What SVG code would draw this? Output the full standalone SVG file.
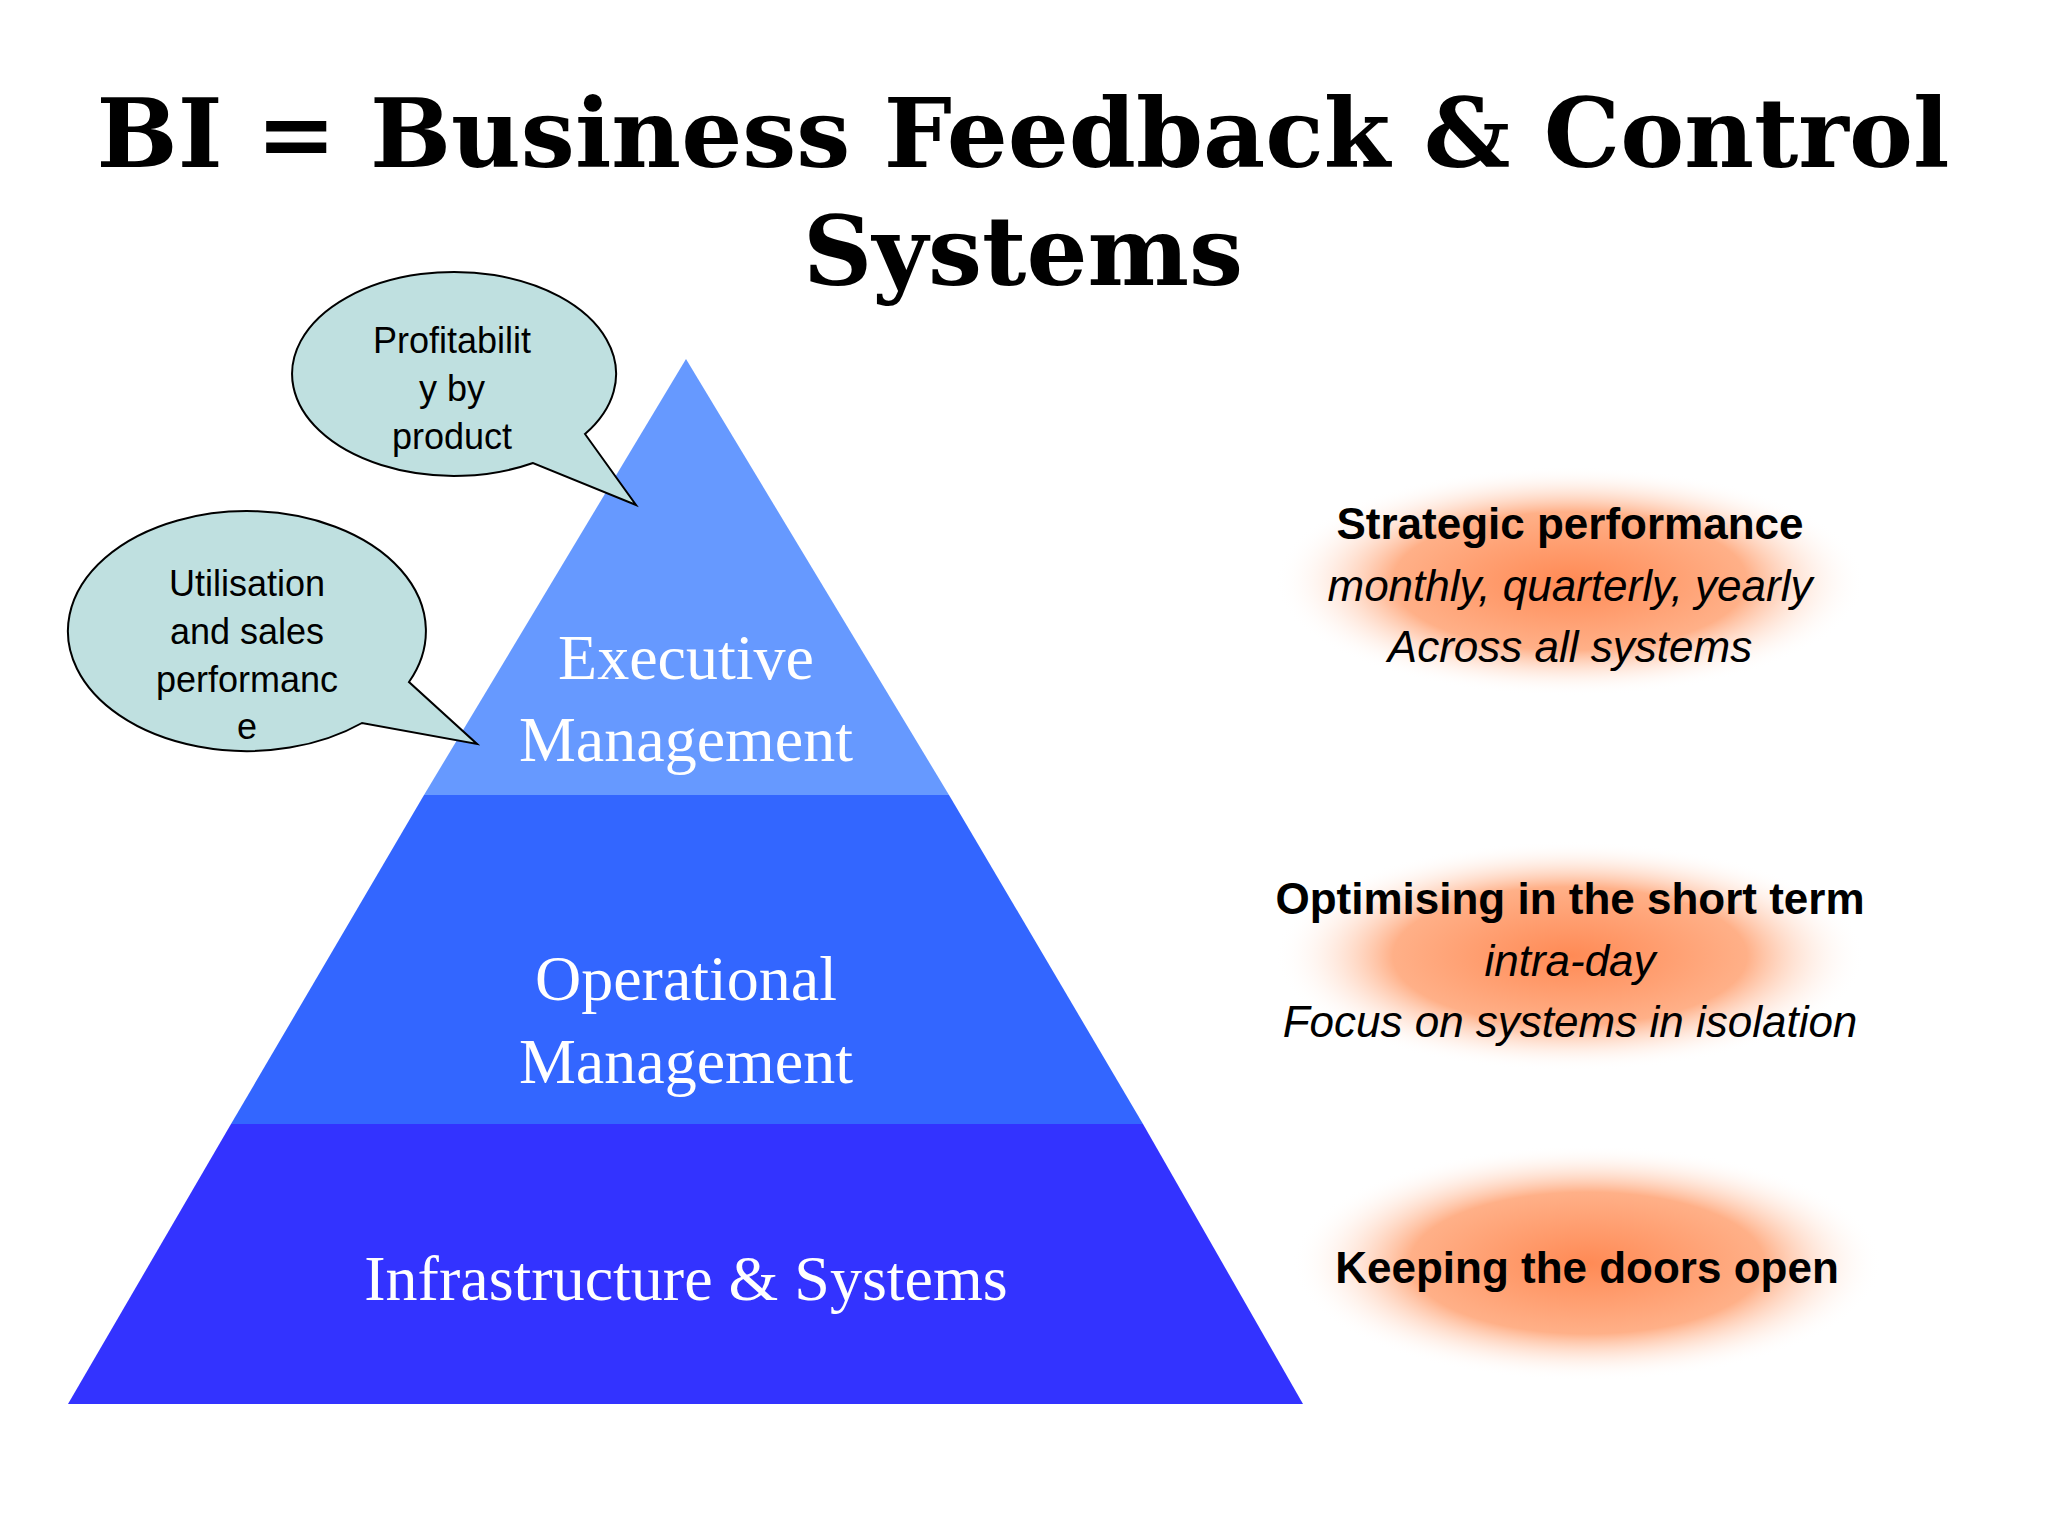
<svg xmlns="http://www.w3.org/2000/svg" width="2048" height="1536" viewBox="0 0 2048 1536">
<defs>
<radialGradient id="glow"><stop offset="0" stop-color="#FF8A55"/><stop offset="0.6" stop-color="#FFB088"/><stop offset="1" stop-color="#FFFFFF" stop-opacity="0"/></radialGradient>
<style>
.title{font-family:"DejaVu Serif",serif;font-weight:bold;font-size:96px;fill:#000;text-anchor:middle}
.pyr{font-family:"Liberation Serif",serif;font-size:64px;fill:#fff;text-anchor:middle}
.side{font-family:"Liberation Sans",Arial,sans-serif;font-size:44px;fill:#000;text-anchor:middle}
.b{font-weight:bold}.i{font-style:italic}
.bub{fill:#BFE0E0;stroke:#000;stroke-width:2}
.bt{font-family:"Liberation Sans",Arial,sans-serif;font-size:36px;fill:#000;text-anchor:middle}
</style>
</defs>
<rect width="2048" height="1536" fill="#fff"/>
<text class="title" x="1023" y="167">BI = Business Feedback &amp; Control</text>
<text class="title" x="1023" y="285">Systems</text>
<g id="tier-exec"><polygon points="686,359 949,795 424,795" fill="#6699FF"/>
<text class="pyr" x="686" y="679">Executive</text><text class="pyr" x="686" y="761">Management</text></g>
<g id="tier-ops"><polygon points="424,795 949,795 1143,1124 231,1124" fill="#3366FF"/>
<text class="pyr" x="686" y="1000">Operational</text><text class="pyr" x="686" y="1083">Management</text></g>
<g id="tier-infra"><polygon points="231,1124 1143,1124 1303,1404 68,1404" fill="#3333FF"/>
<text class="pyr" x="686" y="1300">Infrastructure &amp; Systems</text></g>
<g id="strategic"><ellipse cx="1570" cy="581" rx="295" ry="115" fill="url(#glow)"/>
<text class="side b" x="1570" y="539">Strategic performance</text>
<text class="side i" x="1570" y="601">monthly, quarterly, yearly</text>
<text class="side i" x="1570" y="662">Across all systems</text></g>
<g id="optimising"><ellipse cx="1570" cy="956" rx="295" ry="115" fill="url(#glow)"/>
<text class="side b" x="1570" y="914">Optimising in the short term</text>
<text class="side i" x="1570" y="976">intra-day</text>
<text class="side i" x="1570" y="1037">Focus on systems in isolation</text></g>
<g id="doors"><ellipse cx="1587" cy="1263" rx="295" ry="118" fill="url(#glow)"/>
<text class="side b" x="1587" y="1283">Keeping the doors open</text></g>
<g id="bubble-profit"><path class="bub" d="M533,463 A162,102 0 1 1 585,434 L636,505 Z"/>
<text class="bt" x="452" y="353">Profitabilit</text><text class="bt" x="452" y="401">y by</text><text class="bt" x="452" y="449">product</text></g>
<g id="bubble-util"><path class="bub" d="M362,723 A179,120 0 1 1 409,682 L477,744 Z"/>
<text class="bt" x="247" y="596">Utilisation</text><text class="bt" x="247" y="644">and sales</text><text class="bt" x="247" y="692">performanc</text><text class="bt" x="247" y="739">e</text></g>
<g id="connectors"/>
</svg>
